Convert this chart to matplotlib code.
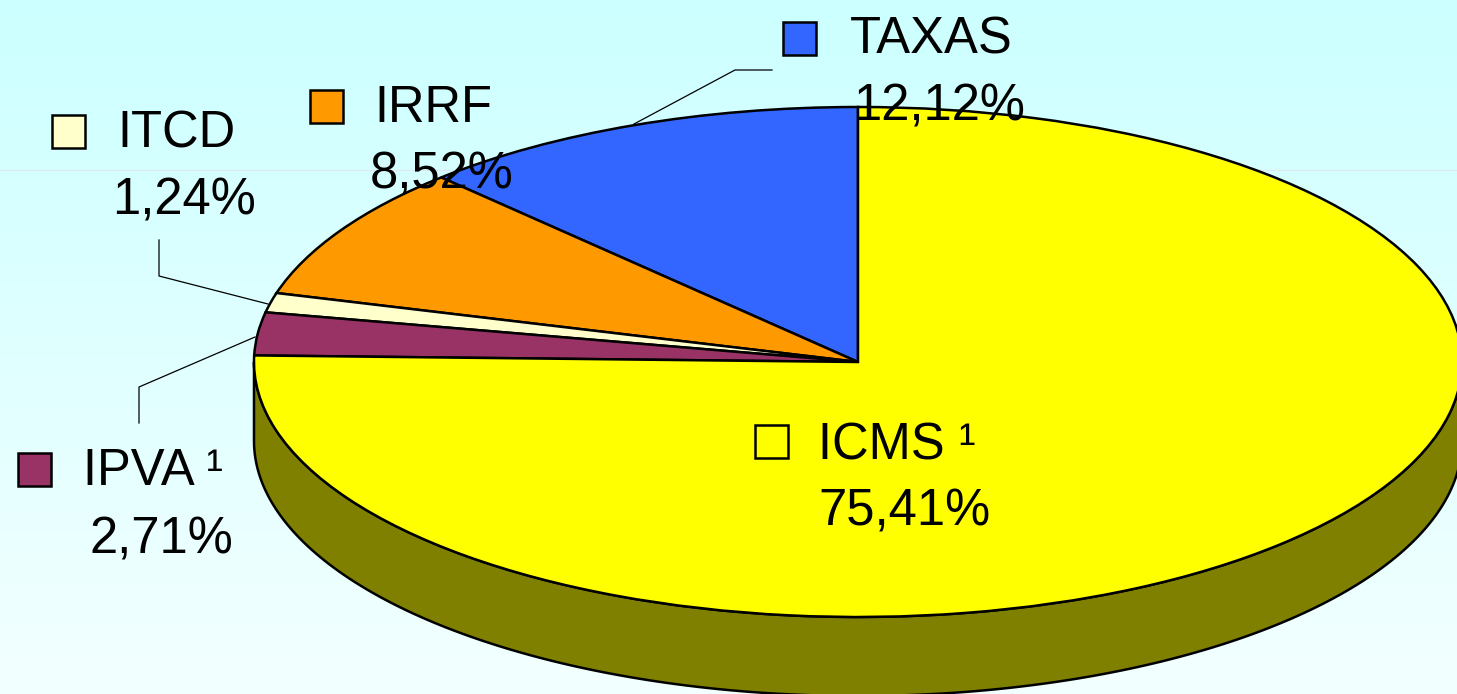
import matplotlib
matplotlib.use("Agg")
import matplotlib.pyplot as plt
from matplotlib.patches import Rectangle
import numpy as np

plt.rcParams['font.family'] = ['Liberation Sans', 'DejaVu Sans']

categories = ["TAXAS", "IRRF", "ITCD", "IPVA ¹", "ICMS ¹"]
values = [12.12, 8.52, 1.24, 2.71, 75.41]
value_labels = ["12,12%", "8,52%", "1,24%", "2,71%", "75,41%"]
colors = ["#3366ff", "#ff9900", "#ffffcc", "#993366", "#ffff00"]
side_color = "#808000"

W, H = 1457, 694
cx, cy = 858, 362      # pie centre in pixels
rx, ry = 604, 255      # squashed radius
depth = 79

# label placement in pixels: square left/top, name centre/baseline, value centre/baseline
squares = [(783, 22), (310, 90), (52, 115), (18, 453), (755, 425)]
name_pos = [(931, 53), (433, 122), (176, 147), (153, 485), (897, 459)]
value_pos = [(939, 120), (442, 188), (184, 214), (161, 553), (904, 525)]
leaders = [
    ([772, 735, 634], [70, 70, 124]),
    ([159, 159, 268], [240, 276, 304]),
    ([139, 139, 255], [423, 387, 337]),
]

fig = plt.figure(figsize=(W / 100, H / 100), dpi=100)

# background gradient
bg = fig.add_axes([0, 0, 1, 1])
grad = np.linspace(0, 1, 256).reshape(-1, 1)
top = np.array([204, 255, 255]) / 255
bottom = np.array([243, 255, 255]) / 255
img = top[None, None, :] * (1 - grad[..., None]) + bottom[None, None, :] * grad[..., None]
bg.imshow(img, extent=[0, W, H, 0], aspect='auto')
bg.axhline(170, color="#dde8f0", lw=0.9)
bg.set_xlim(0, W)
bg.set_ylim(H, 0)
bg.axis('off')

# pie, unit radius stretched to an ellipse by the axes limits
ax = fig.add_axes([0, 0, 1, 1])
ax.patch.set_alpha(0)
t = np.linspace(np.pi, 2 * np.pi, 200)
d = depth / ry
sx = np.concatenate([np.cos(t), np.cos(t[::-1])])
sy = np.concatenate([np.sin(t), np.sin(t[::-1]) - d])
ax.fill(sx, sy, facecolor=side_color, edgecolor="black", lw=1.8)
ax.pie(values, colors=colors, startangle=90, counterclock=True,
       wedgeprops=dict(edgecolor="black", linewidth=1.8))
ax.set_aspect('auto')
ax.set_xlim(-cx / rx, (W - cx) / rx)
ax.set_ylim(-(H - cy) / ry, cy / ry)
ax.axis('off')

# labels on top
over = fig.add_axes([0, 0, 1, 1])
over.patch.set_alpha(0)
over.set_xlim(0, W)
over.set_ylim(H, 0)
over.axis('off')
for xs, ys in leaders:
    over.plot(xs, ys, color="black", lw=0.9)
for i in range(len(categories)):
    over.add_patch(Rectangle(squares[i], 33, 33, facecolor=colors[i], edgecolor="black", lw=1.8))
    over.text(name_pos[i][0], name_pos[i][1], categories[i], fontsize=36.5, ha='center', va='baseline', color="black")
    over.text(value_pos[i][0], value_pos[i][1], value_labels[i], fontsize=36.5, ha='center', va='baseline', color="black")

fig.savefig("out.png", dpi=100)
